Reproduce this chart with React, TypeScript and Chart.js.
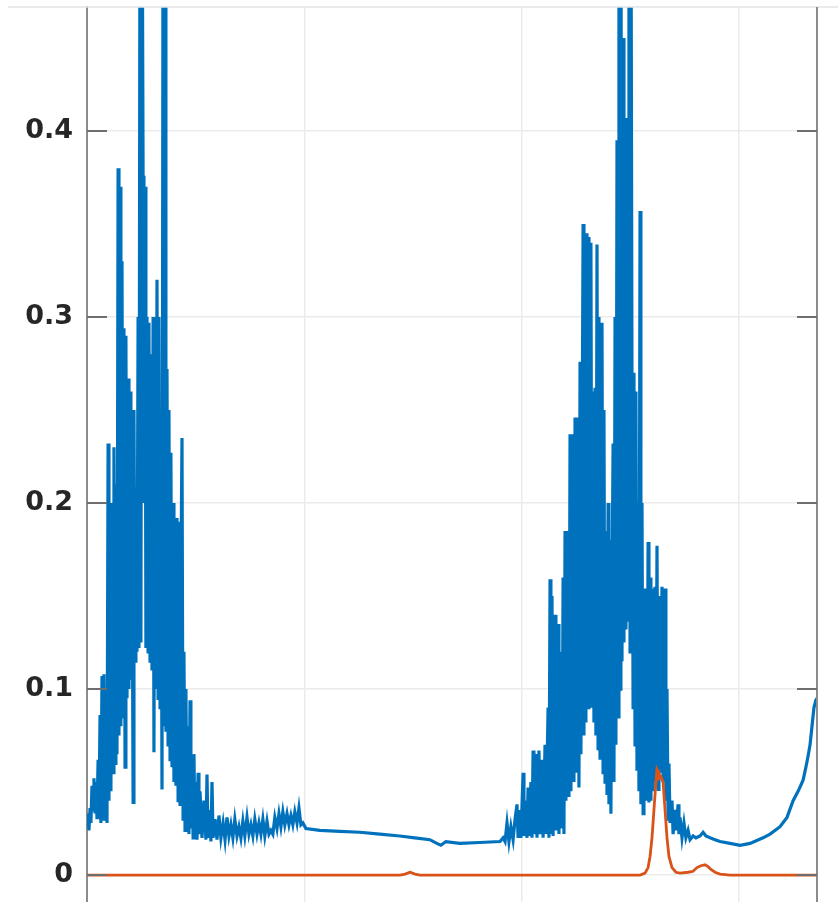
import { useEffect, useRef } from "react";
import { Chart, registerables } from "chart.js";

Chart.register(...registerables);

// axis ticks
const xTicks = [0, 100, 200, 300];
const yTicks = [0, 0.1, 0.2, 0.3, 0.4];

// blue signal, first burst
const burstOneX = [
  0, 0.5, 0.9, 1.4, 1.8, 2.3, 2.8, 3.2, 3.7, 4.1, 4.6, 5.1, 5.5, 6.0, 6.4, 6.9, 7.4, 7.8, 8.3, 8.7,
  9.2, 9.7, 10.1, 10.6, 11.0, 11.5, 12.0, 12.4, 12.9, 13.3, 13.8, 14.3, 14.7, 15.2, 15.6, 16.1, 16.6,
  17.0, 17.5, 17.9, 18.4, 18.9, 19.3, 19.8, 20.2, 20.7, 21.2, 21.6, 22.1, 22.5, 23.0, 23.5, 23.9,
  24.4, 24.8, 25.3, 25.8, 26.2, 26.7, 27.1, 27.6, 28.1, 28.5, 29.0, 29.4, 29.9, 30.4, 30.8, 31.3,
  31.7, 32.2, 32.7, 33.1, 33.6, 34.0, 34.5, 35.0, 35.4, 35.9, 36.3, 36.8, 37.3, 37.7, 38.2, 38.6,
  39.1, 39.6, 40.0, 40.5, 40.9, 41.4, 41.9, 42.3, 42.8, 43.2, 43.7, 44.2, 44.6, 45.1, 45.5, 46.0,
  46.5, 46.9, 47.4, 47.8, 48.3, 48.8, 49.2, 49.7, 50.1, 50.6, 51.1, 51.5, 52.0,
];
const burstOneY = [
  0.026, 0.033, 0.024, 0.036, 0.028, 0.048, 0.035, 0.052, 0.034, 0.05, 0.03, 0.062, 0.03, 0.086,
  0.028, 0.107, 0.03, 0.108, 0.032, 0.1, 0.028, 0.232, 0.04, 0.157, 0.045, 0.2, 0.055, 0.23, 0.06,
  0.21, 0.065, 0.38, 0.075, 0.37, 0.08, 0.33, 0.085, 0.294, 0.058, 0.29, 0.095, 0.267, 0.1, 0.26,
  0.105, 0.2, 0.039, 0.25, 0.115, 0.2, 0.12, 0.3, 0.122, 0.55, 0.125, 0.56, 0.376, 0.2, 0.37, 0.122,
  0.3, 0.12, 0.297, 0.115, 0.28, 0.11, 0.3, 0.066, 0.29, 0.1, 0.32, 0.095, 0.3, 0.09, 0.25, 0.046,
  0.55, 0.08, 0.5, 0.077, 0.272, 0.07, 0.25, 0.062, 0.227, 0.058, 0.2, 0.05, 0.19, 0.048, 0.192,
  0.04, 0.19, 0.038, 0.16, 0.235, 0.03, 0.12, 0.024, 0.1, 0.03, 0.08, 0.022, 0.094, 0.025, 0.06,
  0.02, 0.065, 0.02, 0.05, 0.019, 0.055, 0.022, 0.045,
];

// blue signal, quiet middle part
const plateauX = [
  52.9, 53.8, 54.7, 55.2, 55.7, 56.6, 57.0, 57.5, 58.0, 58.9, 59.8, 60.7, 61.6, 62.6, 63.5, 64.4,
  65.3, 66.2, 67.1, 68.0, 69.0, 69.9, 70.8, 71.7, 72.6, 73.6, 74.5, 75.4, 76.3, 77.2, 78.2, 79.1,
  80.0, 80.9, 81.8, 82.8, 83.7, 84.6, 85.5, 86.4, 87.4, 88.3, 89.2, 90.1, 91.0, 92.0, 92.9, 93.8,
  94.7, 95.6, 96.6, 97.5, 98.4, 99.3, 100.7, 107.1, 116.3, 125.5, 134.7, 143.9, 150.8, 157.7,
  160.9, 162.8, 165.1, 171.5, 180.7,
];
const plateauY = [
  0.02, 0.04, 0.019, 0.054, 0.02, 0.035, 0.018, 0.05, 0.02, 0.03, 0.019, 0.032, 0.02, 0.028, 0.019,
  0.031, 0.021, 0.027, 0.02, 0.03, 0.021, 0.026, 0.02, 0.029, 0.021, 0.031, 0.022, 0.027, 0.021,
  0.03, 0.022, 0.028, 0.022, 0.03, 0.021, 0.029, 0.022, 0.024, 0.022, 0.031, 0.025, 0.033, 0.026,
  0.034, 0.027, 0.033, 0.027, 0.032, 0.027, 0.034, 0.028, 0.036, 0.027, 0.028, 0.025, 0.024,
  0.0235, 0.023, 0.022, 0.021, 0.02, 0.019, 0.017, 0.016, 0.018, 0.017, 0.0175,
];

// blue signal, second burst
const burstTwoX = [
  190.0, 191.4, 192.3, 193.2, 194.1, 195.0, 196.0, 196.9, 197.8, 198.3, 199.2, 199.6, 200.6, 201.0,
  201.9, 202.4, 202.9, 203.3, 204.2, 204.7, 205.2, 205.6, 206.5, 207.0, 207.9, 208.4, 209.3, 209.8,
  210.7, 211.1, 212.1, 212.5, 213.0, 213.4, 213.9, 214.4, 215.3, 215.7, 216.7, 217.1, 218.0, 218.5,
  219.0, 219.4, 219.9, 220.3, 221.3, 221.7, 222.2, 222.6, 223.6, 224.0, 224.5, 224.9, 225.9, 226.3,
  226.8, 227.2, 228.2, 228.6, 229.1, 229.5, 230.0, 230.5, 230.9, 231.4, 231.8, 232.3, 232.8, 233.2,
  233.7, 234.1, 234.6, 235.1, 235.5, 236.0, 236.9, 237.4, 237.8, 238.3, 238.7, 239.2, 239.7, 240.1,
  240.6, 241.0, 241.5, 242.0, 242.4, 242.9, 243.3, 243.8, 244.3, 244.7, 245.2, 245.6, 246.1, 246.6,
  247.0, 247.5, 247.9, 248.4, 248.9, 249.3, 249.8, 250.2, 250.7, 251.2, 251.6, 252.1, 252.5, 253.0,
  253.5, 253.9, 254.4, 254.8, 255.3, 255.8, 256.2, 256.7, 257.1, 257.6, 258.1, 258.5, 259.0, 259.4,
  259.9, 260.4, 261.3, 261.7, 262.2, 262.7, 263.1, 263.6, 264.5, 265.0, 265.9, 266.3, 266.8, 267.3,
  267.7, 268.2, 269.1, 269.6, 270.5, 270.9, 271.9, 272.3, 272.8,
];
const burstTwoY = [
  0.018, 0.02, 0.018, 0.028, 0.018, 0.026, 0.019, 0.03, 0.038, 0.02, 0.035, 0.02, 0.055, 0.021,
  0.04, 0.02, 0.047, 0.021, 0.05, 0.02, 0.067, 0.022, 0.065, 0.02, 0.067, 0.022, 0.062, 0.02,
  0.07, 0.022, 0.09, 0.02, 0.159, 0.022, 0.15, 0.021, 0.14, 0.024, 0.135, 0.022, 0.12, 0.025,
  0.16, 0.022, 0.185, 0.04, 0.185, 0.042, 0.237, 0.045, 0.237, 0.05, 0.246, 0.055, 0.246, 0.047,
  0.276, 0.065, 0.35, 0.075, 0.345, 0.082, 0.345, 0.09, 0.343, 0.096, 0.34, 0.09, 0.26, 0.082,
  0.262, 0.075, 0.339, 0.068, 0.3, 0.062, 0.297, 0.055, 0.25, 0.05, 0.185, 0.043, 0.2, 0.038,
  0.18, 0.033, 0.15, 0.232, 0.05, 0.3, 0.07, 0.395, 0.085, 0.55, 0.1, 0.55, 0.115, 0.45,
  0.125, 0.407, 0.132, 0.174, 0.137, 0.55, 0.12, 0.55, 0.26, 0.09, 0.27, 0.07, 0.26, 0.056,
  0.2, 0.045, 0.357, 0.038, 0.2, 0.033, 0.154, 0.045, 0.154, 0.04, 0.179, 0.039, 0.16, 0.04,
  0.154, 0.045, 0.155, 0.05, 0.177, 0.046, 0.15, 0.055, 0.155, 0.05, 0.154, 0.04, 0.1, 0.03,
  0.06, 0.028, 0.04, 0.022, 0.035, 0.024, 0.038, 0.022, 0.031,
];

// blue signal, tail
const tailX = [
  273.7, 274.6, 275.5, 276.5, 277.4, 278.8, 280.1, 282.0, 283.4, 284.7, 286.6, 288.9, 291.2, 295.8,
  300.4, 305.0, 311.0, 314.2, 318.8, 322.0, 324.8, 327.1, 329.4, 330.7, 331.7, 332.6, 333.5, 334.4,
  335.3, 335.8,
];
const tailY = [
  0.02, 0.028, 0.02, 0.024, 0.019, 0.021, 0.02, 0.021, 0.023, 0.021, 0.02, 0.019, 0.018, 0.017,
  0.016, 0.017, 0.02, 0.022, 0.026, 0.031, 0.04, 0.045, 0.051, 0.058, 0.064, 0.07, 0.08, 0.09, 0.094,
  0.095,
];

// orange signal
const orangeX = [
  0, 144.0, 146.3, 148.6, 150.9, 153.2, 254.4, 256.7, 258.1, 259.0, 259.9, 260.8, 261.7, 262.2,
  262.7, 263.1, 264.0, 265.0, 265.9, 266.8, 267.7, 269.1, 270.9, 272.8, 276.5, 278.8, 280.6, 282.4,
  284.3, 285.7, 287.0, 288.9, 291.2, 295.8, 335.8,
];
const orangeY = [
  0, 0, 0.0005, 0.0015, 0.0005, 0, 0, 0.001, 0.004, 0.01, 0.02, 0.035, 0.05, 0.057, 0.056, 0.052,
  0.053, 0.05, 0.035, 0.02, 0.01, 0.004, 0.0015, 0.001, 0.0015, 0.002, 0.004, 0.005, 0.0055, 0.0045,
  0.003, 0.0015, 0.0005, 0, 0,
];

const blueX = [...burstOneX, ...plateauX, ...burstTwoX, ...tailX];
const blueY = [...burstOneY, ...plateauY, ...burstTwoY, ...tailY];

const toPoints = (xs: number[], ys: number[]) => xs.map((x, i) => ({ x, y: ys[i] }));

// MATLAB-style box: inward tick marks, right edge, faint top line
const boxPlugin = {
  id: "matlabBox",
  afterDatasetsDraw(chart: any) {
    const { ctx, chartArea, scales } = chart;
    const { left, right, top, bottom } = chartArea;
    ctx.save();
    ctx.strokeStyle = "#e3e3e3";
    ctx.lineWidth = 1.5;
    ctx.beginPath();
    ctx.moveTo(8, top);
    ctx.lineTo(chart.width, top);
    ctx.stroke();

    ctx.strokeStyle = "#8c8c8c";
    ctx.lineWidth = 2;
    ctx.beginPath();
    ctx.moveTo(right, top);
    ctx.lineTo(right, bottom);
    ctx.stroke();

    ctx.strokeStyle = "#6e6e6e";
    ctx.lineWidth = 2;
    for (const v of yTicks) {
      const y = scales.y.getPixelForValue(v);
      ctx.beginPath();
      ctx.moveTo(left, y);
      ctx.lineTo(left + 20, y);
      ctx.moveTo(right - 20, y);
      ctx.lineTo(right, y);
      ctx.stroke();
    }
    ctx.restore();
  },
};

export default function App() {
  const canvasRef = useRef<HTMLCanvasElement | null>(null);

  useEffect(() => {
    if (!canvasRef.current) return;

    const chart = new Chart(canvasRef.current, {
      type: "scatter",
      data: {
        datasets: [
          {
            label: "orange",
            data: toPoints(orangeX, orangeY),
            showLine: true,
            borderColor: "#D95319",
            borderWidth: 2.8,
            pointRadius: 0,
            order: 1,
          },
          {
            label: "blue",
            data: toPoints(blueX, blueY),
            showLine: true,
            borderColor: "#0072BD",
            borderWidth: 3.2,
            pointRadius: 0,
            order: 2,
          },
        ],
      },
      options: {
        animation: false,
        responsive: true,
        maintainAspectRatio: false,
        layout: { padding: { top: 7, right: 21, bottom: 0, left: 0 } },
        plugins: {
          legend: { display: false },
          tooltip: { enabled: false },
        },
        scales: {
          x: {
            type: "linear",
            min: 0,
            max: 335.8,
            afterBuildTicks: (axis: any) => {
              axis.ticks = xTicks.map((value) => ({ value }));
            },
            afterFit: (axis: any) => {
              axis.height = 0;
              axis.paddingLeft = 0;
              axis.paddingRight = 0;
            },
            ticks: { display: false },
            grid: { color: "#ebebeb", lineWidth: 1.5, drawTicks: false },
            border: { display: false },
          },
          y: {
            type: "linear",
            min: -0.0145,
            max: 0.4667,
            afterBuildTicks: (axis: any) => {
              axis.ticks = yTicks.map((value) => ({ value }));
            },
            afterFit: (axis: any) => {
              axis.width = 87;
              axis.paddingTop = 0;
              axis.paddingBottom = 0;
            },
            ticks: {
              padding: 14,
              color: "#262626",
              font: { family: "DejaVu Sans", size: 27, weight: "bold" },
              callback: (v: any) => (Number(v) === 0 ? "0" : Number(v).toFixed(1)),
            },
            grid: { color: "#ebebeb", lineWidth: 1.5, drawTicks: false },
            border: { display: true, color: "#8c8c8c", width: 2 },
          },
        },
      },
      plugins: [boxPlugin],
    });

    return () => chart.destroy();
  }, []);

  return (
    <div
      style={{
        position: "fixed",
        left: 0,
        top: 0,
        width: 838,
        height: 902,
        background: "#fff",
      }}
    >
      <canvas ref={canvasRef} />
    </div>
  );
}
